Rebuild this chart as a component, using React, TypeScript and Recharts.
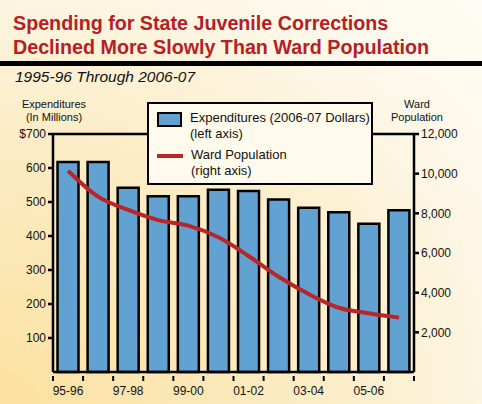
import React from "react";
import {
  ComposedChart, Bar, Line, XAxis, YAxis, ReferenceLine,
} from "recharts";

// fiscal years, one bar + one line point each
const years = [
  "95-96", "96-97", "97-98", "98-99", "99-00", "00-01",
  "01-02", "02-03", "03-04", "04-05", "05-06", "06-07",
];
// expenditures, millions of 2006-07 dollars (left axis)
const expenditures = [618, 618, 542, 517, 517, 536, 532, 507, 483, 470, 436, 476];
// ward population (right axis)
const wardPopulation = [10150, 8840, 8170, 7660, 7380, 6790, 5850, 4800, 3930, 3240, 2960, 2740];

const leftTicks = [100, 200, 300, 400, 500, 600, 700];
const rightTicks = [2000, 4000, 6000, 8000, 10000, 12000];

const data = years.map((y, i) => ({
  year: y,
  spend: expenditures[i],
  wards: wardPopulation[i],
}));

const FONT = "'Liberation Sans', Arial, Helvetica, sans-serif";
const BLUE = "#62a2d3";
const RED = "#b8262a";

// tick marks sit on the band edges, labels in between (every other year)
const YearTick = (props: any) => {
  const { x, y, payload, index } = props;
  const half = payload?.offset || 15;
  const last = index === years.length - 1;
  return (
    <g>
      <line x1={x - half} x2={x - half} y1={y - 4} y2={y + 1} stroke="#000" strokeWidth={2} />
      {last && <line x1={x + half} x2={x + half} y1={y - 4} y2={y + 1} stroke="#000" strokeWidth={2} />}
      {index % 2 === 0 && (
        <text x={x} y={y + 15} textAnchor="middle" fontSize={12} fill="#111" fontFamily={FONT}>
          {payload.value}
        </text>
      )}
    </g>
  );
};

const LegendBox = () => (
  <div
    style={{
      position: "absolute", left: 147, top: 102,
      width: 222, height: 79, border: "2px solid #000", background: "#fffbec",
      fontFamily: FONT, fontSize: 13, color: "#111", lineHeight: "16px",
    }}
  >
    <div style={{ display: "flex", alignItems: "flex-start", marginTop: 6 }}>
      <span style={{ width: 21, height: 11, background: BLUE, border: "2px solid #000", marginLeft: 8, marginTop: 2 }} />
      <span style={{ marginLeft: 8 }}>Expenditures (2006-07 Dollars)<br />(left axis)</span>
    </div>
    <div style={{ display: "flex", alignItems: "flex-start", marginTop: 5 }}>
      <span style={{ width: 26, height: 4, background: RED, marginLeft: 8, marginTop: 7 }} />
      <span style={{ marginLeft: 8 }}>Ward Population<br />(right axis)</span>
    </div>
  </div>
);

export default function App() {
  return (
    <div
      style={{
        position: "absolute", left: 0, top: 0, width: 482, height: 404, overflow: "hidden",
        background: "radial-gradient(ellipse at 0% 100%, #fbe1a0 0%, #fcecc4 45%, #fdf8ea 80%, #fefcf4 100%)",
        fontFamily: FONT,
      }}
    >
      <div style={{ position: "absolute", left: 13, top: 12, color: "#b52025", fontWeight: "bold", fontSize: 19.7, lineHeight: "23.5px" }}>
        Spending for State Juvenile Corrections<br />Declined More Slowly Than Ward Population
      </div>
      <div style={{ position: "absolute", left: 0, top: 61, width: 482, height: 5, background: "#000" }} />
      <div style={{ position: "absolute", left: 15, top: 68, fontStyle: "italic", fontSize: 15.5, color: "#111" }}>
        1995-96 Through 2006-07
      </div>
      <div style={{ position: "absolute", left: 5, top: 98, width: 98, textAlign: "center", fontSize: 11, lineHeight: "13px", color: "#111" }}>
        Expenditures<br />(In Millions)
      </div>
      <div style={{ position: "absolute", left: 377, top: 98, width: 80, textAlign: "center", fontSize: 11, lineHeight: "13px", color: "#111" }}>
        Ward<br />Population
      </div>

      <ComposedChart
        width={482}
        height={404}
        data={data}
        margin={{ top: 134, right: 8, bottom: 8, left: 8 }}
        barCategoryGap="15%"
        style={{ position: "absolute", left: 0, top: 0 }}
      >
        <XAxis
          dataKey="year"
          interval={0}
          height={24}
          stroke="#000"
          strokeWidth={2.5}
          tickLine={false}
          tick={<YearTick />}
        />
        <YAxis
          yAxisId="left"
          domain={[0, 700]}
          ticks={leftTicks}
          width={45}
          stroke="#000"
          strokeWidth={2.5}
          tickSize={5}
          tick={{ fill: "#111", fontSize: 12, fontFamily: FONT }}
          tickFormatter={(v: number) => (v === 700 ? "$700" : String(v))}
          interval={0}
        />
        <YAxis
          yAxisId="right"
          orientation="right"
          domain={[0, 12000]}
          ticks={rightTicks}
          width={60}
          stroke="#000"
          strokeWidth={2.5}
          tickSize={5}
          tick={{ fill: "#111", fontSize: 12, fontFamily: FONT }}
          tickFormatter={(v: number) => v.toLocaleString("en-US")}
          interval={0}
        />
        <ReferenceLine yAxisId="left" y={700} stroke="#000" strokeWidth={2.5} />
        <Bar
          yAxisId="left"
          dataKey="spend"
          name="Expenditures (2006-07 Dollars)"
          fill={BLUE}
          stroke="#000"
          strokeWidth={2.5}
          isAnimationActive={false}
        />
        <Line
          yAxisId="right"
          dataKey="wards"
          name="Ward Population"
          type="monotone"
          stroke={RED}
          strokeWidth={4}
          dot={false}
          isAnimationActive={false}
        />
      </ComposedChart>
      <LegendBox />
    </div>
  );
}
